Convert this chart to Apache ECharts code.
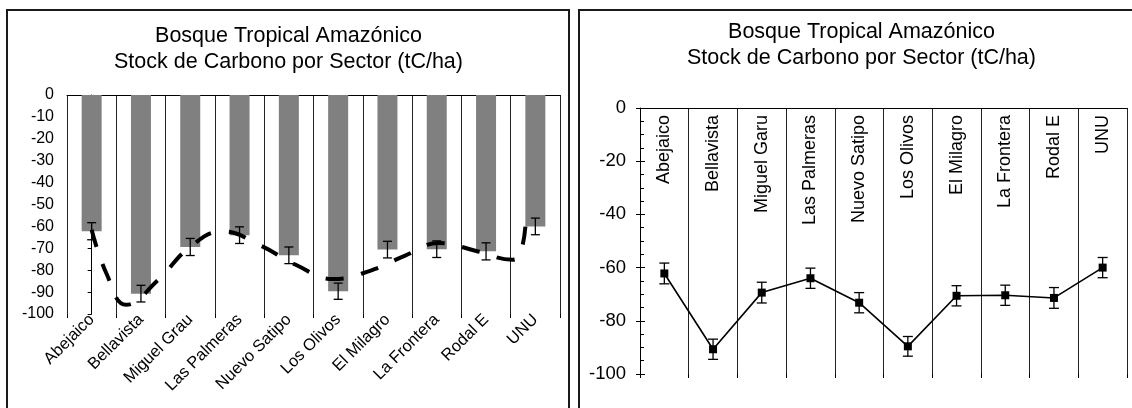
<!DOCTYPE html>
<html>
<head>
<meta charset="utf-8">
<script src="https://cdn.jsdelivr.net/npm/echarts@6/dist/echarts.min.js"></script>
<style>
  html, body { margin: 0; padding: 0; background: #fff; }
  #chart { width: 1132px; height: 408px; }
</style>
</head>
<body>
<div id="chart"></div>
<script>
// Sector names (the bar chart and the line chart spell one of them differently)
const sectorsBar = ['Abejaico', 'Bellavista', 'Miguel Grau', 'Las Palmeras', 'Nuevo Satipo',
  'Los Olivos', 'El Milagro', 'La Frontera', 'Rodal E', 'UNU'];
const sectorsLine = ['Abejaico', 'Bellavista', 'Miguel Garu', 'Las Palmeras', 'Nuevo Satipo',
  'Los Olivos', 'El Milagro', 'La Frontera', 'Rodal E', 'UNU'];

// Carbon stock per sector (tC/ha, plotted as negative) and its error half-width
const stock = [-62.2, -90.7, -69.4, -64.0, -73.2, -89.6, -70.6, -70.4, -71.4, -60.0];
const stockErr = [3.9, 3.8, 3.9, 3.8, 3.8, 3.7, 3.8, 3.8, 3.9, 3.8];

// Dashed smoothed curve over the bars: position along the sector axis and value
const curvePos = [0.0, 0.3, 0.7, 1.35, 2.0, 2.65, 3.42, 4.14, 4.9, 5.66, 6.36, 7.05, 7.8, 8.54, 8.69, 8.8];
const curveVal = [-61.5, -81.5, -95.8, -84.4, -69.3, -62.3, -68.7, -77.5, -84.0, -80.2, -73.3, -67.6, -71.2, -75.2, -72.6, -59.5];

// Axis ranges
const yMin = -100, yMax = 0;
const barTickStep = 10, lineTickStep = 20;

const FONT = "'Liberation Sans', Arial, sans-serif";
const titleText = 'Bosque Tropical Amazónico\nStock de Carbono por Sector (tC/ha)';

const errData = stock.map((v, i) => [i, v - stockErr[i], v + stockErr[i]]);
const curveData = curvePos.map((p, i) => [p, curveVal[i]]);

function errorBars(capHalf, width) {
  return function (params, api) {
    const i = api.value(0);
    const lo = api.coord([i, api.value(1)]);
    const hi = api.coord([i, api.value(2)]);
    const style = { stroke: '#000', lineWidth: width, fill: null };
    return {
      type: 'group',
      children: [
        { type: 'line', shape: { x1: lo[0], y1: lo[1], x2: hi[0], y2: hi[1] }, style },
        { type: 'line', shape: { x1: lo[0] - capHalf, y1: lo[1], x2: lo[0] + capHalf, y2: lo[1] }, style },
        { type: 'line', shape: { x1: hi[0] - capHalf, y1: hi[1], x2: hi[0] + capHalf, y2: hi[1] }, style }
      ]
    };
  };
}

const chart = echarts.init(document.getElementById('chart'), null, { renderer: 'canvas' });

const titleStyle = { fontFamily: FONT, fontSize: 21.5, fontWeight: 'normal', color: '#000', lineHeight: 26 };

const option = {
  backgroundColor: '#fff',
  animation: false,
  textStyle: { fontFamily: FONT, color: '#000' },
  title: [
    { text: titleText, left: 288.5, top: 23, padding: 0, textAlign: 'center', textStyle: titleStyle },
    { text: titleText, left: 861.5, top: 19, padding: 0, textAlign: 'center', textStyle: titleStyle }
  ],
  graphic: [
    { type: 'rect', shape: { x: 7, y: 10, width: 562, height: 480 }, style: { fill: null, stroke: '#1a1a1a', lineWidth: 2 }, silent: true },
    { type: 'rect', shape: { x: 579, y: 10, width: 620, height: 480 }, style: { fill: null, stroke: '#1a1a1a', lineWidth: 2 }, silent: true }
  ],
  grid: [
    { left: 67, top: 95, width: 493, height: 219 },
    { left: 640, top: 108, width: 487, height: 266 }
  ],
  xAxis: [
    { // 0: sector labels under the bars
      type: 'category', data: sectorsBar, gridIndex: 0, position: 'bottom',
      boundaryGap: true,
      axisLine: { show: false, onZero: false },
      axisTick: { show: true, length: 4, interval: 0, lineStyle: { color: '#000' } },
      axisLabel: { interval: 0, rotate: 45, margin: 3, fontSize: 16.5, fontFamily: FONT, color: '#000' },
      splitLine: { show: true, interval: 0, lineStyle: { color: '#222', width: 1 } }
    },
    { // 1: zero line along the top
      type: 'category', data: sectorsBar, gridIndex: 0, position: 'top',
      axisLine: { show: true, onZero: false, lineStyle: { color: '#000', width: 1 } },
      axisTick: { show: false }, axisLabel: { show: false }, splitLine: { show: false }
    },
    { // 2: continuous position for the dashed curve
      type: 'value', gridIndex: 0, min: -0.5, max: 9.5, show: false
    },
    { // 3: line chart top axis, names written inside the plot
      type: 'category', data: sectorsLine, gridIndex: 1, position: 'top',
      boundaryGap: true,
      axisLine: { show: true, onZero: false, lineStyle: { color: '#000', width: 1 } },
      axisTick: { show: false },
      axisLabel: { inside: true, interval: 0, rotate: -90, margin: 7, fontSize: 18, fontFamily: FONT, color: '#000' },
      splitLine: { show: true, interval: 0, lineStyle: { color: '#222', width: 1 } }
    },
    { // 4: short ticks below the line chart
      type: 'category', data: sectorsLine, gridIndex: 1, position: 'bottom',
      boundaryGap: true,
      axisLine: { show: false, onZero: false },
      axisTick: { show: true, length: 4, interval: 0, lineStyle: { color: '#000' } },
      axisLabel: { show: false }, splitLine: { show: false }
    }
  ],
  yAxis: [
    { // 0: bar chart
      type: 'value', gridIndex: 0, min: yMin, max: yMax, interval: barTickStep,
      axisLine: { show: true, lineStyle: { color: '#000', width: 1 } },
      axisTick: { show: true, length: 4, lineStyle: { color: '#000' } },
      axisLabel: { margin: 13, fontSize: 16, fontFamily: FONT, color: '#000' },
      splitLine: { show: false }
    },
    { // 1: line chart, inner ticks and minor ticks
      type: 'value', gridIndex: 1, position: 'left', min: yMin, max: yMax, interval: lineTickStep,
      axisLine: { show: true, onZero: false, lineStyle: { color: '#000', width: 1 } },
      axisTick: { show: true, inside: true, length: 5, lineStyle: { color: '#000' } },
      minorTick: { show: true, splitNumber: 4, length: 4, lineStyle: { color: '#000' } },
      axisLabel: { margin: 14, fontSize: 18.5, fontFamily: FONT, color: '#000' },
      splitLine: { show: false }
    },
    { // 2: line chart, outer half of the crossing major ticks
      type: 'value', gridIndex: 1, position: 'left', offset: 0, min: yMin, max: yMax, interval: lineTickStep,
      axisLine: { show: false, onZero: false },
      axisTick: { show: true, inside: false, length: 4, lineStyle: { color: '#000' } },
      axisLabel: { show: false }, splitLine: { show: false }
    }
  ],
  series: [
    {
      type: 'bar', xAxisIndex: 0, yAxisIndex: 0, data: stock,
      barWidth: 20, itemStyle: { color: '#808080' }, z: 2
    },
    {
      type: 'custom', xAxisIndex: 0, yAxisIndex: 0, data: errData,
      renderItem: errorBars(4.5, 1.3), z: 4
    },
    {
      type: 'line', xAxisIndex: 2, yAxisIndex: 0, data: curveData,
      smooth: 0.45, showSymbol: false, symbol: 'none',
      lineStyle: { color: '#000', width: 4, type: [18, 18], cap: 'butt' }, z: 5
    },
    {
      type: 'custom', xAxisIndex: 3, yAxisIndex: 1, data: errData,
      renderItem: errorBars(5, 1.3), z: 3
    },
    {
      type: 'line', xAxisIndex: 3, yAxisIndex: 1, data: stock,
      symbol: 'rect', symbolSize: 8, showSymbol: true,
      itemStyle: { color: '#000' },
      lineStyle: { color: '#000', width: 1.6 }, z: 5
    }
  ]
};

chart.setOption(option);
</script>
</body>
</html>
